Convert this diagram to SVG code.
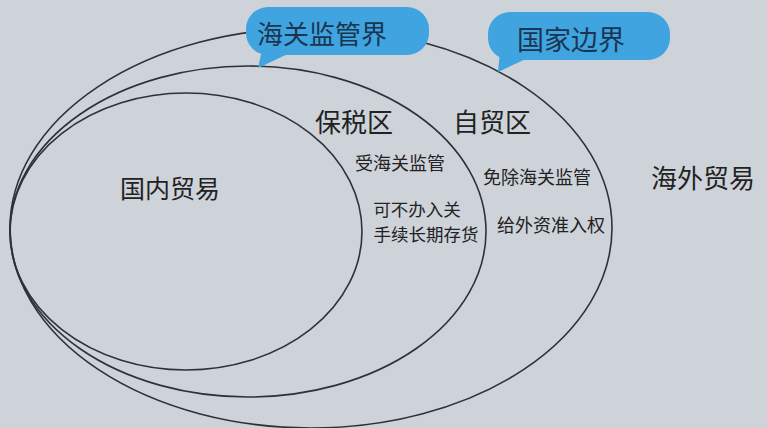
<svg xmlns="http://www.w3.org/2000/svg" width="767" height="428" viewBox="0 0 767 428">
<style>
.ring{fill:none;stroke:#2e3238;stroke-width:1.6}
.bub{fill:#3fa4df}
.bt{font-family:"Noto Sans CJK SC","Noto Sans",sans-serif;fill:#1b3550;text-anchor:middle;dominant-baseline:central}
.lb{font-family:"Noto Sans CJK SC","Noto Sans",sans-serif;fill:#222;text-anchor:middle;dominant-baseline:central}
</style>
<rect width="767" height="428" fill="#ced3da"/>
<g id="connectors">
<ellipse id="outer" class="ring" cx="311" cy="228" rx="301" ry="200"/>
<ellipse id="middle" class="ring" cx="248" cy="231.5" rx="238" ry="165.5"/>
<ellipse id="inner" class="ring" cx="186" cy="231.5" rx="176" ry="138.5"/>
</g>
<g id="callout-customs">
<rect class="bub" x="246" y="7" width="183" height="48" rx="22"/>
<polygon class="bub" points="262,50 258,68 290,53"/>
<text class="bt" x="322" y="32" font-size="26">海关监管界</text>
</g>
<g id="callout-border">
<rect class="bub" x="488" y="12" width="182" height="48" rx="22"/>
<polygon class="bub" points="500,52 498,72 528,58"/>
<text class="bt" x="571" y="38" font-size="27">国家边界</text>
</g>
<g id="domestic">
<text class="lb" x="170" y="187" font-size="25">国内贸易</text>
</g>
<g id="bonded">
<text class="lb" x="354" y="120" font-size="26">保税区</text>
<text class="lb" x="400" y="162" font-size="18">受海关监管</text>
<text class="lb" x="417" y="208" font-size="17.5">可不办入关</text>
<text class="lb" x="426" y="233" font-size="17.5">手续长期存货</text>
</g>
<g id="ftz">
<text class="lb" x="492" y="120" font-size="26">自贸区</text>
<text class="lb" x="537" y="176" font-size="18">免除海关监管</text>
<text class="lb" x="551" y="224" font-size="18">给外资准入权</text>
</g>
<g id="overseas">
<text class="lb" x="703" y="176" font-size="26">海外贸易</text>
</g>
</svg>
